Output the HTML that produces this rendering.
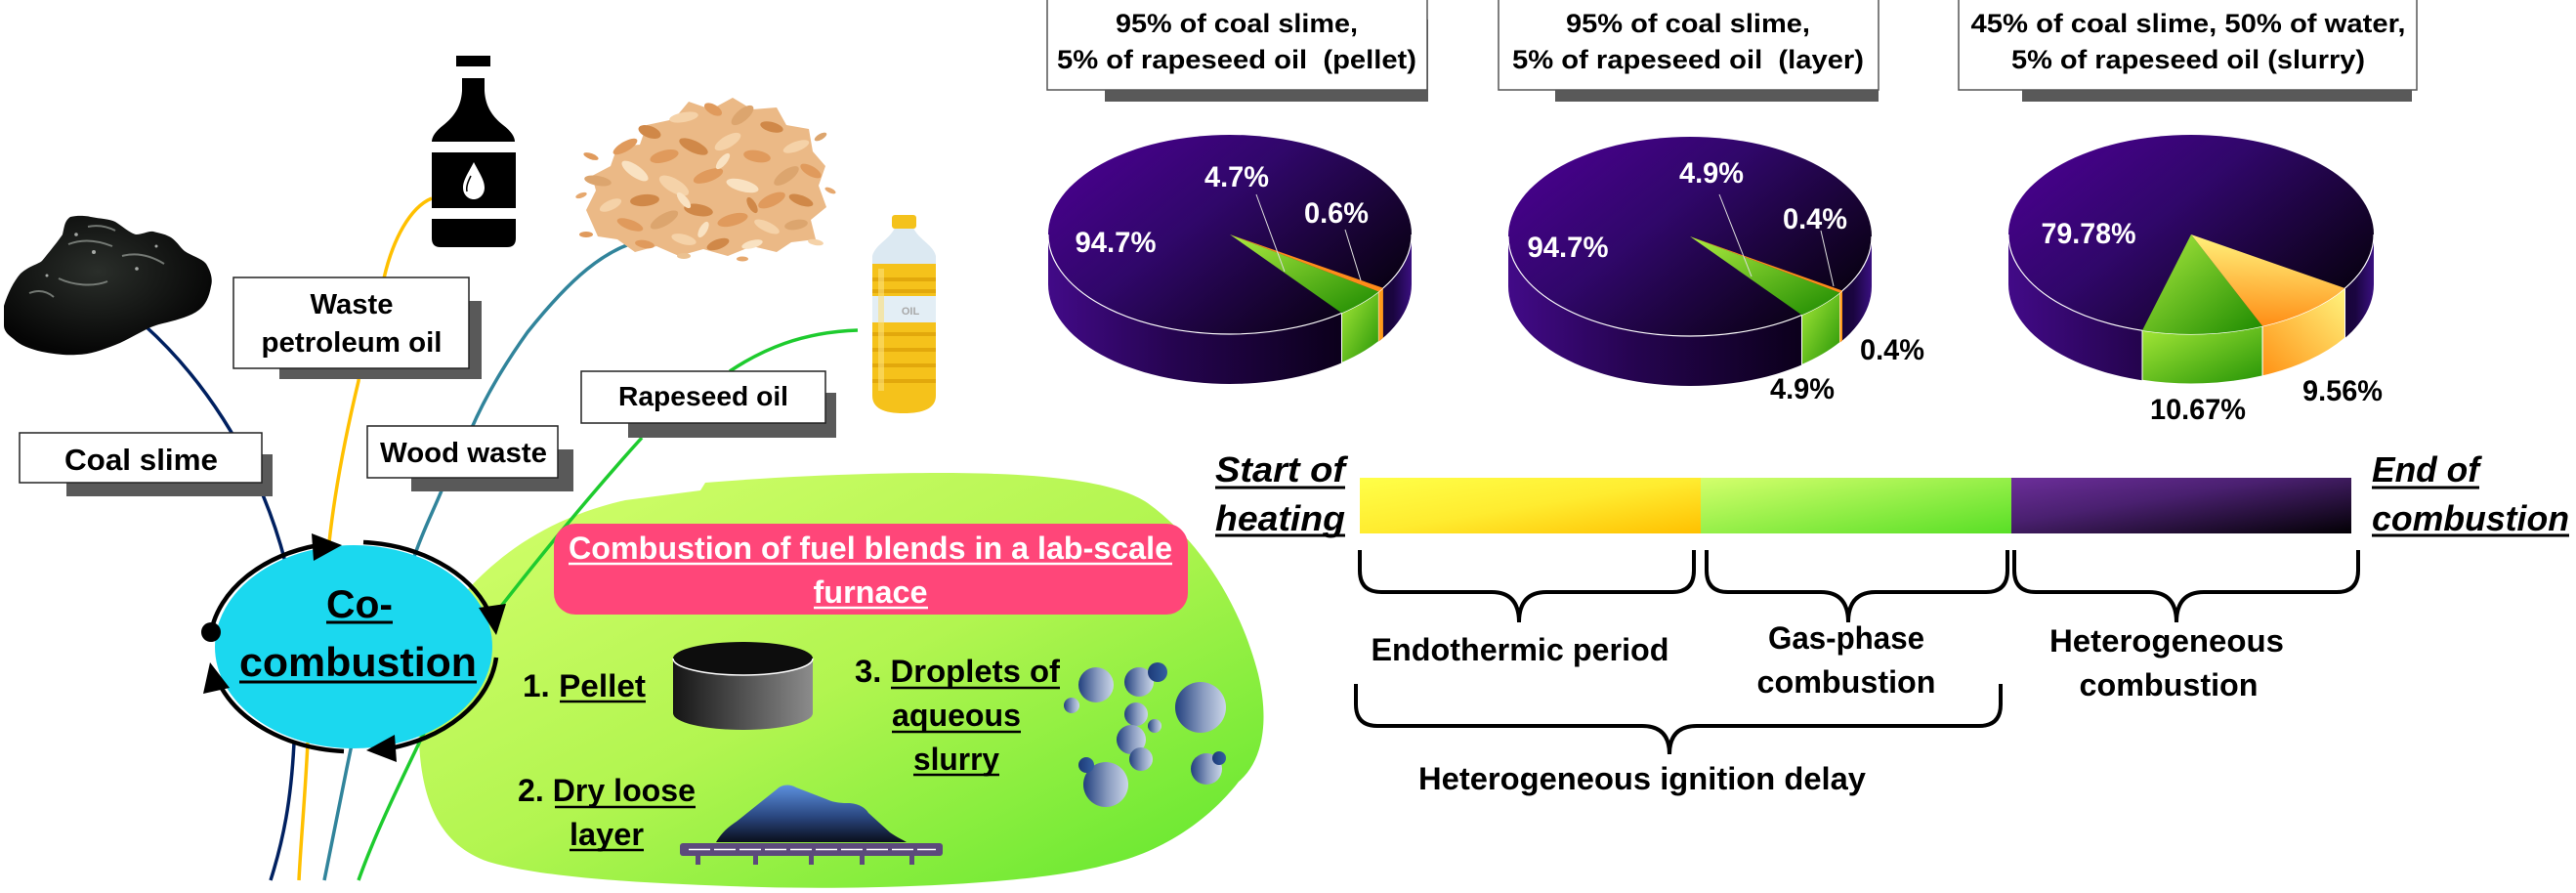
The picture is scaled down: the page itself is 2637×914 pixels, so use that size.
<!DOCTYPE html>
<html><head><meta charset="utf-8"><style>html,body{margin:0;padding:0;background:#fff}svg{display:block}</style></head>
<body>
<svg width="2637" height="914" viewBox="0 0 2637 914" xmlns="http://www.w3.org/2000/svg" font-family="'Liberation Sans', Arial, sans-serif" font-weight="bold">
<defs>
<linearGradient id="blob" x1="0" y1="0" x2="1" y2="1"><stop offset="0" stop-color="#D6FF6E"/><stop offset="0.5" stop-color="#B2F550"/><stop offset="1" stop-color="#5EE62C"/></linearGradient>
<linearGradient id="pTop" x1="0" y1="0.15" x2="1" y2="0.85"><stop offset="0" stop-color="#4A0090"/><stop offset="0.4" stop-color="#30076A"/><stop offset="0.75" stop-color="#16032F"/><stop offset="1" stop-color="#030008"/></linearGradient>
<linearGradient id="pSide" x1="0" y1="0" x2="1" y2="0"><stop offset="0" stop-color="#420A88"/><stop offset="0.35" stop-color="#25044F"/><stop offset="0.8" stop-color="#0C001C"/><stop offset="0.95" stop-color="#1A0540"/><stop offset="1" stop-color="#3A1080"/></linearGradient>
<linearGradient id="gTop" x1="0" y1="0" x2="1" y2="1"><stop offset="0" stop-color="#AEEB40"/><stop offset="1" stop-color="#1C8A00"/></linearGradient>
<linearGradient id="gSide" x1="0" y1="0" x2="1" y2="1"><stop offset="0" stop-color="#A6E838"/><stop offset="1" stop-color="#259406"/></linearGradient>
<linearGradient id="oTop" x1="0.3" y1="0" x2="0.2" y2="1"><stop offset="0" stop-color="#FFF47E"/><stop offset="1" stop-color="#FF8A12"/></linearGradient>
<linearGradient id="oSide" x1="1" y1="0" x2="0" y2="1"><stop offset="0" stop-color="#FFF47E"/><stop offset="1" stop-color="#FF9215"/></linearGradient>
<linearGradient id="barY" x1="0" y1="0" x2="1" y2="1"><stop offset="0" stop-color="#FFFF48"/><stop offset="0.5" stop-color="#FFEC30"/><stop offset="1" stop-color="#FFC000"/></linearGradient>
<linearGradient id="barG" x1="0" y1="0" x2="1" y2="1"><stop offset="0" stop-color="#D4FF6C"/><stop offset="1" stop-color="#58DF26"/></linearGradient>
<linearGradient id="barP" x1="0" y1="0" x2="1" y2="1"><stop offset="0" stop-color="#6C2E9A"/><stop offset="0.4" stop-color="#4A2070"/><stop offset="1" stop-color="#020004"/></linearGradient>
<linearGradient id="cyl" x1="0" y1="0" x2="1" y2="0"><stop offset="0" stop-color="#151515"/><stop offset="1" stop-color="#8C8C8C"/></linearGradient>
<linearGradient id="pile" x1="0" y1="0" x2="0" y2="1"><stop offset="0" stop-color="#5C90DE"/><stop offset="0.55" stop-color="#2A4780"/><stop offset="1" stop-color="#0A0E1C"/></linearGradient>
<linearGradient id="bub" x1="0" y1="0" x2="1" y2="0"><stop offset="0" stop-color="#22407E"/><stop offset="0.55" stop-color="#8A9CC0"/><stop offset="1" stop-color="#CBD6E8"/></linearGradient>
<linearGradient id="bubD" x1="0" y1="0" x2="1" y2="0"><stop offset="0" stop-color="#1C3A78"/><stop offset="1" stop-color="#3560A0"/></linearGradient>
<radialGradient id="coal" cx="0.45" cy="0.4" r="0.6"><stop offset="0" stop-color="#2A2E2A"/><stop offset="1" stop-color="#050505"/></radialGradient>
</defs>

<!-- green blob -->
<path d="M429,760 C425,690 445,640 482,600 C520,560 570,528 640,512 L717,502 L722,494 C820,486 940,482 1020,485 C1100,488 1150,498 1175,515 C1230,555 1270,620 1288,690 C1300,740 1292,780 1268,800 C1245,830 1200,870 1133,885 C1060,905 900,911 780,908 C680,905 560,900 500,882 C450,865 432,820 429,760 Z" fill="url(#blob)"/>

<!-- connector lines -->
<g fill="none" stroke-width="3.5">
<path d="M148,333 C200,380 262,460 292,575" stroke="#002060"/>
<path d="M301,760 C298,820 290,860 277,901" stroke="#002060"/>
<path d="M442,203 C420,212 402,245 393,285" stroke="#FFC000"/>
<path d="M380,330 C372,360 368,380 367,390 C355,440 343,500 337,555" stroke="#FFC000"/>
<path d="M315,760 C312,820 308,860 306,901" stroke="#FFC000"/>
<path d="M668,244 C620,250 580,290 540,340 C515,375 495,410 482,440" stroke="#31849B"/>
<path d="M455,495 C445,520 432,545 424,570" stroke="#31849B"/>
<path d="M360,762 C350,810 340,860 332,901" stroke="#31849B"/>
<path d="M878,338 C820,340 780,358 747,380" stroke="#1ECB2E"/>
<path d="M657,448 C610,500 560,560 504,632" stroke="#1ECB2E"/>
<path d="M435,748 C415,790 385,850 367,901" stroke="#1ECB2E"/>
</g>

<!-- coal slime blob -->
<path d="M4,313 C8,300 14,288 21,280 C30,272 40,270 43,267 C52,256 60,246 64,240 C66,232 66,226 72,222 C80,220 90,221 93,222 C103,224 112,224 118,227 C126,232 132,238 139,240 C146,240 152,236 157,237 C165,239 170,240 175,243 C182,248 185,254 189,257 C196,262 206,264 211,270 C216,278 218,286 216,293 C214,305 210,312 204,317 C195,324 182,327 171,330 C162,332 156,334 150,337 C140,342 128,349 118,353 C105,358 92,363 79,363 C66,364 54,362 43,360 C30,357 20,353 14,347 C7,342 4,338 4,333 Z" fill="url(#coal)"/>
<g stroke="#9aa09a" stroke-width="2" fill="none" opacity="0.7">
<path d="M70,250 C85,244 100,246 115,252"/><path d="M60,285 C75,292 95,294 110,288"/><path d="M125,262 C140,258 155,262 168,270"/><path d="M90,232 C100,230 110,232 118,236"/><path d="M30,300 C40,296 48,298 55,304"/>
</g>
<g fill="#c8ccc8" opacity="0.8"><circle cx="96" cy="258" r="2"/><circle cx="140" cy="275" r="1.8"/><circle cx="48" cy="282" r="1.5"/><circle cx="160" cy="252" r="1.5"/><circle cx="78" cy="240" r="1.8"/></g>

<!-- label boxes -->
<g stroke="#222" stroke-width="1.5">
<rect x="68" y="465" width="211" height="43" fill="#595959" stroke="none"/>
<rect x="20" y="443" width="248" height="51" fill="#fff"/>
<rect x="286" y="308" width="207" height="80" fill="#595959" stroke="none"/>
<rect x="239" y="284" width="241" height="93" fill="#fff"/>
<rect x="421" y="460" width="166" height="43" fill="#595959" stroke="none"/>
<rect x="376" y="436" width="195" height="53" fill="#fff"/>
<rect x="643" y="402" width="213" height="46" fill="#595959" stroke="none"/>
<rect x="595" y="380" width="250" height="53" fill="#fff"/>
</g>
<g fill="#000">
<text x="144.5" y="481" text-anchor="middle" font-size="31" textLength="157" lengthAdjust="spacingAndGlyphs">Coal slime</text>
<text x="360" y="321" text-anchor="middle" font-size="29" textLength="85" lengthAdjust="spacingAndGlyphs">Waste</text>
<text x="360" y="360" text-anchor="middle" font-size="29" textLength="185" lengthAdjust="spacingAndGlyphs">petroleum oil</text>
<text x="474.5" y="473" text-anchor="middle" font-size="29" textLength="171" lengthAdjust="spacingAndGlyphs">Wood waste</text>
<text x="720" y="415" text-anchor="middle" font-size="28" textLength="174" lengthAdjust="spacingAndGlyphs">Rapeseed oil</text>
</g>

<!-- petroleum bottle icon -->
<g fill="#000">
<rect x="467" y="57" width="35" height="11"/>
<path d="M473,80 L496,80 L496,93 C497,110 505,120 515,128 C523,134 527,140 527,145 L442,145 C442,140 446,134 454,128 C464,120 472,110 473,93 Z"/>
<rect x="442" y="156" width="86" height="57"/>
<path d="M442,224 L528,224 L528,244 Q528,253 519,253 L451,253 Q442,253 442,244 Z"/>
</g>
<path d="M485,166 C480,176 474,184 474,192 C474,199 479,204 485,204 C491,204 496,199 496,192 C496,184 490,176 485,166 Z" fill="#fff"/>
<path d="M482,180 C479,186 477,191 478,196" stroke="#000" stroke-width="1.5" fill="none"/>

<!-- wood shavings -->
<path d="M600,215 L610,195 L606,180 L625,170 L632,150 L655,148 L662,128 L690,122 L705,104 L728,112 L750,100 L770,112 L795,110 L805,128 L828,132 L832,155 L845,170 L838,190 L846,212 L830,225 L835,245 L810,248 L795,258 L770,252 L745,262 L720,255 L695,262 L672,252 L650,258 L632,245 L612,242 Z" fill="#EBB986"/>
<g>
<ellipse cx="640" cy="150" rx="14" ry="5" transform="rotate(-30 640 150)" fill="#E09A5C"/>
<ellipse cx="665" cy="135" rx="12" ry="6" transform="rotate(20 665 135)" fill="#D08848"/>
<ellipse cx="700" cy="120" rx="15" ry="5" transform="rotate(-10 700 120)" fill="#F5D2A8"/>
<ellipse cx="730" cy="112" rx="10" ry="5" transform="rotate(30 730 112)" fill="#E09A5C"/>
<ellipse cx="760" cy="118" rx="14" ry="6" transform="rotate(-40 760 118)" fill="#DCA56E"/>
<ellipse cx="790" cy="130" rx="12" ry="5" transform="rotate(15 790 130)" fill="#D08848"/>
<ellipse cx="815" cy="150" rx="14" ry="5" transform="rotate(-20 815 150)" fill="#F5D2A8"/>
<ellipse cx="830" cy="175" rx="12" ry="5" transform="rotate(30 830 175)" fill="#E09A5C"/>
<ellipse cx="612" cy="185" rx="14" ry="5" transform="rotate(10 612 185)" fill="#DCA56E"/>
<ellipse cx="625" cy="210" rx="12" ry="5" transform="rotate(-25 625 210)" fill="#F5D2A8"/>
<ellipse cx="650" cy="175" rx="16" ry="6" transform="rotate(35 650 175)" fill="#F9E2C2"/>
<ellipse cx="680" cy="160" rx="15" ry="6" transform="rotate(-15 680 160)" fill="#E09A5C"/>
<ellipse cx="710" cy="150" rx="16" ry="6" transform="rotate(25 710 150)" fill="#D08848"/>
<ellipse cx="745" cy="145" rx="15" ry="6" transform="rotate(-30 745 145)" fill="#F5D2A8"/>
<ellipse cx="775" cy="160" rx="14" ry="6" transform="rotate(10 775 160)" fill="#E09A5C"/>
<ellipse cx="805" cy="180" rx="15" ry="6" transform="rotate(-35 805 180)" fill="#DCA56E"/>
<ellipse cx="820" cy="205" rx="13" ry="5" transform="rotate(20 820 205)" fill="#D08848"/>
<ellipse cx="660" cy="205" rx="15" ry="6" transform="rotate(-5 660 205)" fill="#D08848"/>
<ellipse cx="690" cy="190" rx="17" ry="7" transform="rotate(30 690 190)" fill="#F5D2A8"/>
<ellipse cx="725" cy="180" rx="16" ry="6" transform="rotate(-20 725 180)" fill="#E09A5C"/>
<ellipse cx="760" cy="190" rx="17" ry="6" transform="rotate(15 760 190)" fill="#F9E2C2"/>
<ellipse cx="790" cy="205" rx="15" ry="6" transform="rotate(-25 790 205)" fill="#E09A5C"/>
<ellipse cx="645" cy="230" rx="14" ry="5" transform="rotate(20 645 230)" fill="#E09A5C"/>
<ellipse cx="680" cy="225" rx="16" ry="6" transform="rotate(-30 680 225)" fill="#DCA56E"/>
<ellipse cx="715" cy="215" rx="15" ry="6" transform="rotate(10 715 215)" fill="#D08848"/>
<ellipse cx="750" cy="225" rx="16" ry="6" transform="rotate(-15 750 225)" fill="#E09A5C"/>
<ellipse cx="785" cy="232" rx="14" ry="5" transform="rotate(25 785 232)" fill="#F5D2A8"/>
<ellipse cx="815" cy="230" rx="12" ry="5" transform="rotate(-10 815 230)" fill="#DCA56E"/>
<ellipse cx="700" cy="245" rx="13" ry="5" transform="rotate(15 700 245)" fill="#F5D2A8"/>
<ellipse cx="735" cy="250" rx="12" ry="5" transform="rotate(-20 735 250)" fill="#D08848"/>
<ellipse cx="660" cy="250" rx="10" ry="4" transform="rotate(10 660 250)" fill="#E09A5C"/>
<ellipse cx="770" cy="250" rx="11" ry="4" transform="rotate(-15 770 250)" fill="#F9E2C2"/>
<ellipse cx="605" cy="160" rx="8" ry="3" transform="rotate(20 605 160)" fill="#E09A5C"/>
<ellipse cx="840" cy="140" rx="7" ry="3" transform="rotate(-30 840 140)" fill="#DCA56E"/>
<ellipse cx="600" cy="240" rx="7" ry="3" fill="#E09A5C"/>
<ellipse cx="835" cy="248" rx="8" ry="3" transform="rotate(10 835 248)" fill="#F5D2A8"/>
<ellipse cx="700" cy="205" rx="10" ry="4" transform="rotate(50 700 205)" fill="#F9E2C2"/>
<ellipse cx="740" cy="165" rx="10" ry="4" transform="rotate(-50 740 165)" fill="#F9E2C2"/>
<ellipse cx="770" cy="210" rx="9" ry="4" transform="rotate(60 770 210)" fill="#D08848"/>
<ellipse cx="720" cy="235" rx="9" ry="4" transform="rotate(-60 720 235)" fill="#F9E2C2"/>
<ellipse cx="595" cy="200" rx="6" ry="2.5" transform="rotate(-20 595 200)" fill="#E6A86E"/>
<ellipse cx="850" cy="195" rx="6" ry="2.5" transform="rotate(25 850 195)" fill="#E6A86E"/>
<ellipse cx="700" cy="262" rx="7" ry="3" fill="#EBC190"/>
<ellipse cx="760" cy="265" rx="6" ry="2.5" fill="#E6A86E"/>
</g>

<!-- oil bottle -->
<path d="M916,233 L935,233 C940,245 955,250 958,262 L958,272 L893,272 L893,262 C896,250 911,245 916,233 Z" fill="#DCE9F2"/>
<rect x="913" y="220" width="25" height="14" rx="3" fill="#F4C21C"/>
<path d="M893,270 L958,270 L958,405 C958,418 945,423 925,423 C905,423 893,418 893,405 Z" fill="#F5C21B"/>
<g fill="#E2A80C"><rect x="893" y="284" width="65" height="4"/><rect x="893" y="296" width="65" height="4"/><rect x="893" y="340" width="65" height="4"/><rect x="893" y="356" width="65" height="4"/><rect x="893" y="372" width="65" height="4"/><rect x="893" y="388" width="65" height="4"/></g>
<rect x="893" y="303" width="65" height="27" fill="#E3EEF5"/>
<rect x="899" y="275" width="6" height="125" fill="#FBE07A" opacity="0.6"/>
<text x="932" y="322" text-anchor="middle" font-size="11" fill="#A8A8A8">OIL</text>

<!-- co-combustion ellipse -->
<ellipse cx="362" cy="662" rx="142" ry="104" fill="#1BD8EF"/>
<g fill="none" stroke="#000" stroke-width="4.5">
<path d="M216,647 A147,107 0 0 1 326,558"/>
<path d="M372,555 A147,107 0 0 1 500,625"/>
<path d="M508,673 A147,107 0 0 1 393,767"/>
<path d="M352,769 A147,107 0 0 1 224,699"/>
</g>
<g fill="#000">
<polygon points="350,558 321,574 319,546"/>
<polygon points="508,650 518,618 490,622"/>
<polygon points="375,768 406,780 404,752"/>
<polygon points="215,678 235,704 208,710"/>
<circle cx="216" cy="647" r="10"/>
</g>
<text x="368" y="632" text-anchor="middle" font-size="40" textLength="68" lengthAdjust="spacingAndGlyphs">Co-</text>
<text x="366.5" y="692" text-anchor="middle" font-size="42" textLength="243" lengthAdjust="spacingAndGlyphs">combustion</text>
<g stroke="#000" stroke-width="3"><line x1="334" y1="637" x2="402" y2="637"/><line x1="245" y1="698" x2="488" y2="698"/></g>

<!-- pink box -->
<rect x="567" y="536" width="649" height="93" rx="22" fill="#FF4679"/>
<g fill="#fff">
<text x="891" y="572" text-anchor="middle" font-size="32" textLength="618" lengthAdjust="spacingAndGlyphs">Combustion of fuel blends in a lab-scale</text>
<text x="891" y="617" text-anchor="middle" font-size="32" textLength="117" lengthAdjust="spacingAndGlyphs">furnace</text>
</g>
<g stroke="#fff" stroke-width="2.5"><line x1="582" y1="577" x2="1200" y2="577"/><line x1="833" y1="622" x2="950" y2="622"/></g>

<!-- methods -->
<g fill="#000" font-size="32">
<text x="535" y="713" textLength="126" lengthAdjust="spacingAndGlyphs">1. Pellet</text>
<text x="530" y="820" textLength="182" lengthAdjust="spacingAndGlyphs">2. Dry loose</text>
<text x="583" y="865" textLength="76" lengthAdjust="spacingAndGlyphs">layer</text>
<text x="875" y="698" textLength="210" lengthAdjust="spacingAndGlyphs">3. Droplets of</text>
<text x="913" y="743" textLength="132" lengthAdjust="spacingAndGlyphs">aqueous</text>
<text x="935" y="788" textLength="88" lengthAdjust="spacingAndGlyphs">slurry</text>
</g>
<g stroke="#000" stroke-width="2.5">
<line x1="573" y1="718" x2="661" y2="718"/><line x1="568" y1="826" x2="712" y2="826"/><line x1="583" y1="870" x2="659" y2="870"/>
<line x1="912" y1="704" x2="1085" y2="704"/><line x1="913" y1="749" x2="1045" y2="749"/><line x1="935" y1="793" x2="1023" y2="793"/>
</g>

<!-- cylinder -->
<path d="M689,674 L689,730 A71.5,17 0 0 0 832,730 L832,674 Z" fill="url(#cyl)"/>
<ellipse cx="760.5" cy="674" rx="71.5" ry="17" fill="#0D0D0D"/>
<path d="M689,674 A71.5,17 0 0 0 832,674" fill="none" stroke="#fff" stroke-width="1.5"/>

<!-- pile and grate -->
<path d="M733,862 C740,850 748,845 755,840 L795,808 C800,803 808,802 815,806 L846,818 C855,822 862,822 870,822 C880,823 886,827 889,832 L911,852 C918,857 925,860 928,862 Z" fill="url(#pile)"/>
<rect x="696" y="863" width="269" height="13" rx="3" fill="#5C4A7C"/>
<line x1="705" y1="869.5" x2="958" y2="869.5" stroke="#fff" stroke-width="1.5" stroke-dasharray="22 4"/>
<g fill="#5C4A7C"><rect x="712" y="874" width="5" height="11"/><rect x="771" y="874" width="5" height="11"/><rect x="828" y="874" width="5" height="11"/><rect x="880" y="874" width="5" height="11"/><rect x="931" y="874" width="5" height="11"/></g>

<!-- droplets -->
<g fill="url(#bub)">
<circle cx="1122" cy="701" r="18"/>
<circle cx="1166" cy="698" r="15"/>
<circle cx="1229" cy="724" r="26"/>
<circle cx="1097" cy="722" r="8"/>
<circle cx="1163" cy="731" r="12"/>
<circle cx="1182" cy="743" r="7"/>
<circle cx="1158" cy="757" r="15"/>
<circle cx="1168" cy="777" r="12"/>
<circle cx="1132" cy="803" r="23"/>
<circle cx="1235" cy="787" r="16"/>
</g>
<g fill="url(#bubD)">
<circle cx="1185" cy="688" r="10"/>
<circle cx="1112" cy="783" r="8"/>
<circle cx="1248" cy="776" r="7"/>
</g>

<!-- title boxes -->
<rect x="1131" y="20" width="331" height="84" fill="#595959"/>
<rect x="1072" y="-3" width="389" height="95" fill="#fff" stroke="#555" stroke-width="1.5"/>
<rect x="1592" y="20" width="331" height="84" fill="#595959"/>
<rect x="1534" y="-3" width="389" height="95" fill="#fff" stroke="#555" stroke-width="1.5"/>
<rect x="2070" y="20" width="399" height="84" fill="#595959"/>
<rect x="2005" y="-3" width="469" height="95" fill="#fff" stroke="#555" stroke-width="1.5"/>
<g fill="#000" font-size="27" text-anchor="middle">
<text x="1266" y="33" textLength="248" lengthAdjust="spacingAndGlyphs">95% of coal slime,</text>
<text x="1266" y="70" textLength="368" lengthAdjust="spacingAndGlyphs">5% of rapeseed oil&#160; (pellet)</text>
<text x="1728" y="33" textLength="250" lengthAdjust="spacingAndGlyphs">95% of coal slime,</text>
<text x="1728" y="70" textLength="360" lengthAdjust="spacingAndGlyphs">5% of rapeseed oil&#160; (layer)</text>
<text x="2240" y="33" textLength="445" lengthAdjust="spacingAndGlyphs">45% of coal slime, 50% of water,</text>
<text x="2240" y="70" textLength="362" lengthAdjust="spacingAndGlyphs">5% of rapeseed oil (slurry)</text>
</g>

<!-- pie 1 -->
<path d="M1073,240 L1073,291 A186,102 0 0 0 1445,291 L1445,240 A186,102 0 0 1 1073,240 Z" fill="url(#pSide)"/>
<path d="M1373.5,320.4 L1373.5,371.4 A186,102 0 0 0 1411.4,349.5 L1411.4,298.5 A186,102 0 0 1 1373.5,320.4 Z" fill="url(#gSide)" stroke="#fff" stroke-width="1"/>
<path d="M1411.4,298.5 L1411.4,349.5 A186,102 0 0 0 1415.9,345.8 L1415.9,294.8 A186,102 0 0 1 1411.4,298.5 Z" fill="#FF9A1A"/>
<ellipse cx="1259" cy="240" rx="186" ry="102" fill="url(#pTop)"/>
<path d="M1073,240 A186,102 0 0 0 1445,240" fill="none" stroke="#fff" stroke-width="1.2"/>
<path d="M1259,240 L1373.5,320.4 A186,102 0 0 0 1411.4,298.5 Z" fill="url(#gTop)"/>
<path d="M1259,240 L1411.4,298.5 A186,102 0 0 0 1415.9,294.8 Z" fill="#FF8C1A"/>
<g stroke="#ddd" stroke-width="1"><line x1="1286" y1="199" x2="1315" y2="278"/><line x1="1377" y1="235" x2="1393" y2="287"/></g>
<g fill="#fff" font-size="30" text-anchor="middle">
<text x="1142" y="258" textLength="83" lengthAdjust="spacingAndGlyphs">94.7%</text>
<text x="1266" y="191" textLength="66" lengthAdjust="spacingAndGlyphs">4.7%</text>
<text x="1368" y="228" textLength="66" lengthAdjust="spacingAndGlyphs">0.6%</text>
</g>

<!-- pie 2 -->
<path d="M1544,242 L1544,293 A186,102 0 0 0 1916,293 L1916,242 A186,102 0 0 1 1544,242 Z" fill="url(#pSide)"/>
<path d="M1844.5,322.4 L1844.5,373.4 A186,102 0 0 0 1883.5,350.6 L1883.5,299.6 A186,102 0 0 1 1844.5,322.4 Z" fill="url(#gSide)" stroke="#fff" stroke-width="1"/>
<path d="M1883.5,299.6 L1883.5,350.6 A186,102 0 0 0 1886,348.5 L1886,297.5 A186,102 0 0 1 1883.5,299.6 Z" fill="#FF9A1A"/>
<ellipse cx="1730" cy="242" rx="186" ry="102" fill="url(#pTop)"/>
<path d="M1544,242 A186,102 0 0 0 1916,242" fill="none" stroke="#fff" stroke-width="1.2"/>
<path d="M1730,242 L1844.5,322.4 A186,102 0 0 0 1883.5,299.6 Z" fill="url(#gTop)"/>
<path d="M1730,242 L1883.5,299.6 A186,102 0 0 0 1886,297.5 Z" fill="#FF8C1A"/>
<g stroke="#ddd" stroke-width="1"><line x1="1760" y1="199" x2="1793" y2="283"/><line x1="1864" y1="236" x2="1877" y2="293"/></g>
<g fill="#fff" font-size="30" text-anchor="middle">
<text x="1605" y="263" textLength="83" lengthAdjust="spacingAndGlyphs">94.7%</text>
<text x="1752" y="187" textLength="66" lengthAdjust="spacingAndGlyphs">4.9%</text>
<text x="1858" y="234" textLength="66" lengthAdjust="spacingAndGlyphs">0.4%</text>
</g>
<g fill="#000" font-size="30" text-anchor="middle">
<text x="1937" y="368" textLength="66" lengthAdjust="spacingAndGlyphs">0.4%</text>
<text x="1845" y="408" textLength="66" lengthAdjust="spacingAndGlyphs">4.9%</text>
</g>

<!-- pie 3 -->
<path d="M2056,240 L2056,291 A187,102 0 0 0 2430,291 L2430,240 A187,102 0 0 1 2056,240 Z" fill="url(#pSide)"/>
<path d="M2193,338.3 L2193,389.3 A187,102 0 0 0 2316.1,384.9 L2316.1,333.9 A187,102 0 0 1 2193,338.3 Z" fill="url(#gSide)" stroke="#fff" stroke-width="1"/>
<path d="M2316.1,333.9 L2316.1,384.9 A187,102 0 0 0 2400.5,346 L2400.5,295 A187,102 0 0 1 2316.1,333.9 Z" fill="url(#oSide)" stroke="#fff" stroke-width="1"/>
<ellipse cx="2243" cy="240" rx="187" ry="102" fill="url(#pTop)"/>
<path d="M2056,240 A187,102 0 0 0 2430,240" fill="none" stroke="#fff" stroke-width="1.2"/>
<path d="M2243,240 L2193,338.3 A187,102 0 0 0 2316.1,333.9 Z" fill="url(#gTop)"/>
<path d="M2243,240 L2316.1,333.9 A187,102 0 0 0 2400.5,295 Z" fill="url(#oTop)"/>
<text x="2138" y="249" text-anchor="middle" font-size="30" fill="#fff" textLength="97" lengthAdjust="spacingAndGlyphs">79.78%</text>
<g fill="#000" font-size="30" text-anchor="middle">
<text x="2250" y="429" textLength="98" lengthAdjust="spacingAndGlyphs">10.67%</text>
<text x="2398" y="410" textLength="82" lengthAdjust="spacingAndGlyphs">9.56%</text>
</g>

<!-- timeline -->
<g font-style="italic" font-size="36" fill="#000">
<text x="1244" y="493" textLength="133" lengthAdjust="spacingAndGlyphs">Start of</text>
<text x="1244" y="543" textLength="133" lengthAdjust="spacingAndGlyphs">heating</text>
<text x="2428" y="493" textLength="110" lengthAdjust="spacingAndGlyphs">End of</text>
<text x="2428" y="543" textLength="202" lengthAdjust="spacingAndGlyphs">combustion</text>
</g>
<g stroke="#000" stroke-width="3">
<line x1="1244" y1="499" x2="1377" y2="499"/><line x1="1244" y1="548" x2="1377" y2="548"/>
<line x1="2428" y1="499" x2="2538" y2="499"/><line x1="2428" y1="548" x2="2630" y2="548"/>
</g>
<rect x="1392" y="489" width="349" height="57" fill="url(#barY)"/>
<rect x="1741" y="489" width="318" height="57" fill="url(#barG)"/>
<rect x="2059" y="489" width="348" height="57" fill="url(#barP)"/>

<g fill="none" stroke="#000" stroke-width="4">
<path d="M1392,563 L1392,584 Q1392,606 1414,606 L1527,606 Q1555,606 1555,637 Q1555,606 1583,606 L1712,606 Q1734,606 1734,584 L1734,563"/>
<path d="M1747,563 L1747,584 Q1747,606 1769,606 L1864,606 Q1892,606 1892,637 Q1892,606 1920,606 L2033,606 Q2055,606 2055,584 L2055,563"/>
<path d="M2062,563 L2062,584 Q2062,606 2084,606 L2200,606 Q2228,606 2228,637 Q2228,606 2256,606 L2392,606 Q2414,606 2414,584 L2414,563"/>
<path d="M1388,700 L1388,721 Q1388,743 1410,743 L1681,743 Q1709,743 1709,772 Q1709,743 1737,743 L2026,743 Q2048,743 2048,721 L2048,700"/>
</g>
<g fill="#000" font-size="32" text-anchor="middle">
<text x="1556" y="676" textLength="305" lengthAdjust="spacingAndGlyphs">Endothermic period</text>
<text x="1890" y="664" textLength="160" lengthAdjust="spacingAndGlyphs">Gas-phase</text>
<text x="1890" y="709" textLength="183" lengthAdjust="spacingAndGlyphs">combustion</text>
<text x="2218" y="667" textLength="240" lengthAdjust="spacingAndGlyphs">Heterogeneous</text>
<text x="2220" y="712" textLength="183" lengthAdjust="spacingAndGlyphs">combustion</text>
<text x="1681" y="808" textLength="458" lengthAdjust="spacingAndGlyphs">Heterogeneous ignition delay</text>
</g>
</svg>
</body></html>
